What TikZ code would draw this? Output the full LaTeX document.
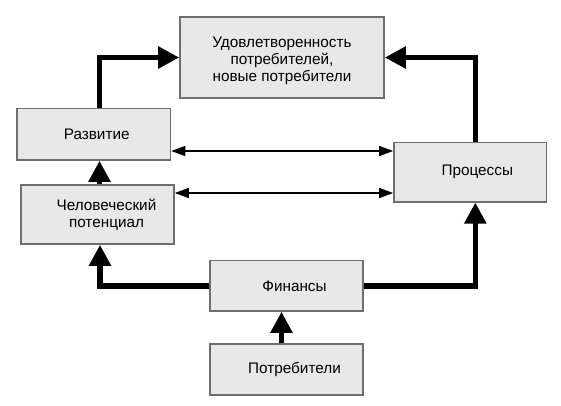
\documentclass[tikz,border=0pt]{standalone}
\usepackage{fontspec}
\setmainfont{Liberation Sans}
\usetikzlibrary{arrows.meta}
\definecolor{boxfill}{RGB}{232,232,232}
\definecolor{boxline}{RGB}{110,110,110}
\begin{document}
\begin{tikzpicture}[x=1pt,y=-1pt,
  box/.style={draw=boxline, fill=boxfill, line width=1.6pt, align=center, inner sep=0pt,
    font=\fontsize{15.3}{17}\selectfont},
  bigarrow/.style={line width=5.5pt, line join=miter, -{Triangle[width=21pt,length=21pt]}},
  thinarrow/.style={line width=1.3pt, {Triangle[width=10pt,length=14pt]}-{Triangle[width=10pt,length=14pt]}}]
\useasboundingbox[fill=white] (0,0) rectangle (561,405);
\node[box, minimum width=204pt, minimum height=81pt, font=\fontsize{15.3}{16.8}\selectfont] (sat) at (282,57.5)
  {\rule{0pt}{17pt}Удовлетворенность\\потребителей,\\новые потребители};
\node[box, minimum width=153.5pt, minimum height=51.5pt] (razv) at (93.7,134.2)
  {\hspace*{6pt}Развитие};
\node[box, minimum width=153pt, minimum height=59pt] (chel) at (97.5,214.5)
  {\hspace*{18pt}Человеческий\\\hspace*{18pt}потенциал};
\node[box, minimum width=152.7pt, minimum height=59.4pt] (proc) at (470.3,172)
  {\hspace*{14pt}Процессы};
\node[box, minimum width=153pt, minimum height=50.3pt] (fin) at (286.5,285.8)
  {\hspace*{16pt}Финансы};
\node[box, minimum width=153pt, minimum height=51pt] (potr) at (286.5,369.5)
  {\hspace*{16pt}Потребители};
\draw[bigarrow] ([xshift=5.8pt]razv.north) |- (sat.west);
\draw[bigarrow] ([xshift=5pt]proc.north) |- (sat.east);
\draw[bigarrow] (fin.west) -| ([xshift=2.5pt]chel.south);
\draw[bigarrow] (fin.east) -| ([xshift=5pt]proc.south);
\draw[bigarrow] ([xshift=-5pt]potr.north) -- ([xshift=-5pt]fin.south);
\draw[bigarrow] ([xshift=2pt]chel.north) -- ([xshift=2pt]chel.north |- razv.south);
\draw[thinarrow] ([yshift=-16.8pt]razv.east) -- ([yshift=-16.8pt]razv.east -| proc.west);
\draw[thinarrow] ([yshift=21.5pt]chel.east) -- ([yshift=21.5pt]chel.east -| proc.west);
\end{tikzpicture}
\end{document}
